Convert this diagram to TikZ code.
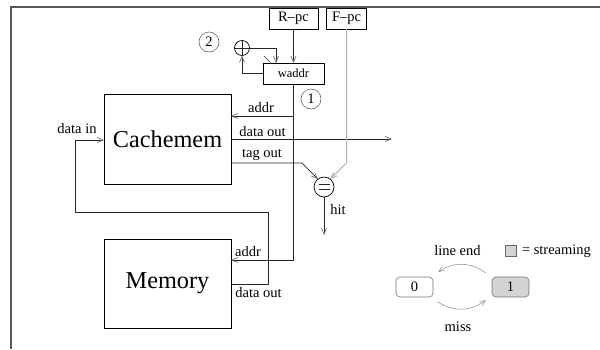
\documentclass[tikz,border=0pt]{standalone}
\usepackage{fontspec}
\setmainfont{Liberation Serif}
\usetikzlibrary{arrows.meta,calc}
\begin{document}
\begin{tikzpicture}[x=1pt,y=-1pt,
  every node/.style={inner sep=0pt,outer sep=0pt,font=\fontsize{14.5}{16}\selectfont},
  wire/.style={line width=0.7pt,black!85},
  arr/.style={wire,-{Straight Barb[length=6pt,width=5pt,color=black!55]}},
  garr/.style={line width=1pt,black!30,-{Straight Barb[length=6pt,width=5pt]}},
  bigbox/.style={draw,line width=0.8pt,minimum width=127pt,minimum height=90pt,font=\fontsize{24.3}{26}\selectfont},
  smallbox/.style={draw,line width=0.8pt,minimum height=21pt},
  numcirc/.style={draw,circle,black!60,line width=0.6pt,minimum size=20pt,text=black},
  opcirc/.style={draw,circle,line width=0.7pt},
  state/.style={draw,rounded corners=4pt,black!55,line width=0.6pt,minimum width=37pt,minimum height=20pt,text=black}
]
\useasboundingbox (0,0) rectangle (600,349);
\draw[black!65,line width=1.4pt] (600,7) -- (11,7) -- (11,349);

% boxes
\node[smallbox,minimum width=49pt] (rpc) at (293.5,18.5) {R–pc};
\node[smallbox,minimum width=40pt] (fpc) at (346.5,18.5) {F–pc};
\node[smallbox,minimum width=61pt,font=\fontsize{12.5}{14}\selectfont] (waddr) at (293.5,73.5) {waddr};
\draw[wire,line width=0.5pt] ($(waddr.north west)+(1,-7)$) -- ($(waddr.north west)+(7,-1)$);
\node[bigbox] (cache) at (167.5,139) {Cachemem};
\node[bigbox,minimum height=89pt] (mem) at (167.5,283.5) {Memory};

% circles
\node[opcirc,minimum size=15pt] (adder) at (242,48) {};
\draw[wire] (adder.west) -- (adder.east);
\draw[wire] (adder.north) -- (adder.south);
\node[numcirc] (c2) at (209,42) {2};
\node[numcirc] (c1) at (311,99) {1};
\node[opcirc,minimum size=20pt] (eq) at (324,187) {};
\draw[wire] ($(eq.center)+(-5.5,-2.2)$) -- ($(eq.center)+(5.5,-2.2)$);
\draw[wire] ($(eq.center)+(-5.5,2.2)$) -- ($(eq.center)+(5.5,2.2)$);

% coordinates
\coordinate (j1) at (293.5,116);
\coordinate (j2) at (293.5,260);
\coordinate (dout) at (392,139);
\coordinate (tag) at (302,163);
\coordinate (fbend) at (346.5,163);
\coordinate (hitend) at (324,235);
\coordinate (m1) at (268,284);
\coordinate (m2) at (75,212);
\coordinate (m3) at (75,140);

% connectors
\draw[arr] (rpc.south) -- (waddr.north);
\draw[arr] (adder.east) -| ([xshift=-17.5pt]waddr.north);
\draw[arr] (waddr.west) -| (adder.south);
\draw[wire] (waddr.south) -- (j2);
\draw[arr] (j1) -- (j1 -| cache.east);
\draw[arr] (j2) -- (j2 -| mem.east);
\draw[arr] (dout -| cache.east) -- (dout);
\draw[arr] (tag -| cache.east) -- (tag) -- (eq.128);
\draw[garr] (fpc.south) -- (fbend) -- (eq.52);
\draw[arr] (eq.south) -- (hitend);
\draw[arr] (m1 -| mem.east) -- (m1) |- (m2) -- (m3) -- (m3 -| cache.west);

% labels
\node (laddr) at (261,108) {addr};
\node (ldout) at (262.5,132) {data out};
\node (ltag) at (262,155) {tag out};
\node (ldin) at (77,129) {data in};
\node (lhit) at (338,210) {hit};
\node (lmaddr) at (248,252) {addr};
\node (lmdout) at (258.5,293) {data out};

% legend
\node[state] (s0) at (414.5,287) {0};
\node[state,fill=black!17] (s1) at (510.5,287) {1};
\node (lend) at (457.5,251) {line end};
\node[draw,black!60,fill=black!17,line width=0.6pt,minimum size=11pt] (sq) at (510.5,251) {};
\node[anchor=west] (lstream) at (522,251) {= streaming};
\node (lmiss) at (458,327) {miss};
\draw[garr,black!40,line width=0.6pt] ([xshift=-6pt,yshift=4pt]s1.north west) to[bend right=35] ([xshift=5pt,yshift=5pt]s0.north east);
\draw[garr,black!40,line width=0.6pt] ([xshift=5pt,yshift=-5pt]s0.south east) to[bend right=35] ([xshift=-6pt,yshift=-3pt]s1.south west);
\end{tikzpicture}
\end{document}
